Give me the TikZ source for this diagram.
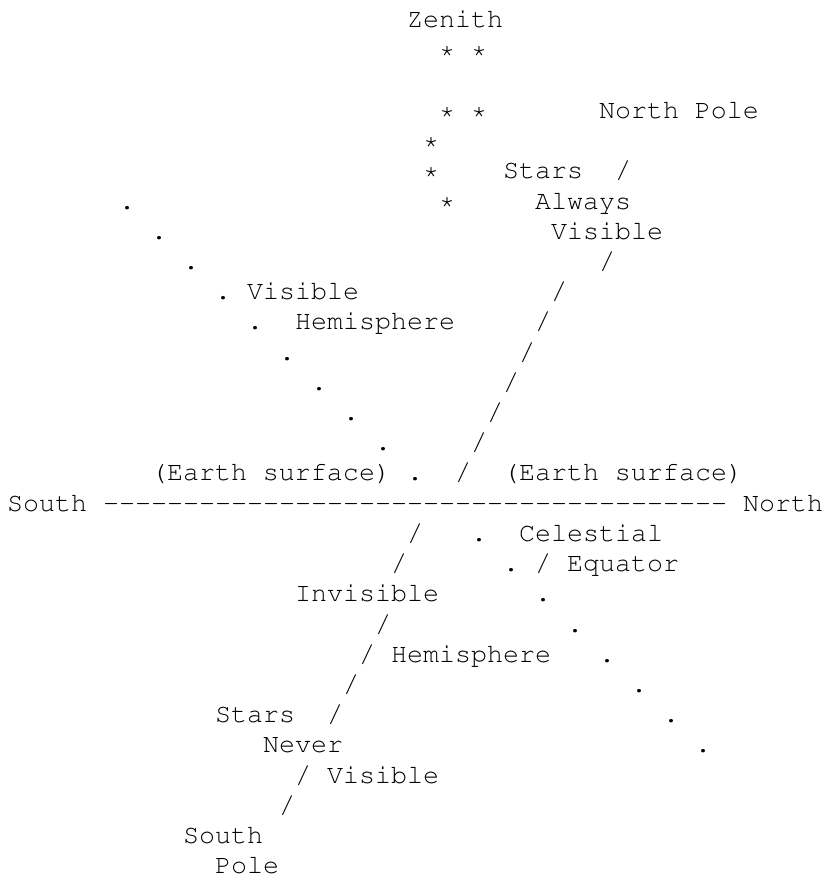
\documentclass[tikz,border=0pt]{standalone}
\usepackage[T1]{fontenc}
\usepackage{courier}
\usepackage{tikz}

\tikzset{txt/.style={anchor=base west, inner sep=0pt, outer sep=0pt, font=\fontsize{26.67}{30}\selectfont\ttfamily}}

\begin{document}
\begin{tikzpicture}[x=16pt,y=-30.2pt,every node/.style={txt}]
\useasboundingbox (-0.4375,0.073) rectangle (51.25,29.146);
% zenith and stars overhead
\node (0) at (25,1) {Zenith};
\node (1) at (27,2) {*};
\node (2) at (29,2) {*};
\node (3) at (27,4) {*};
\node (4) at (29,4) {*};
\node (5) at (37,4) {North Pole};
\node (6) at (26,5) {*};
\node (7) at (26,6) {*};
\node (8) at (31,6) {Stars};
\node (9) at (38,6) {/};
\node (10) at (27,7) {*};
\node (11) at (33,7) {Always};
\node (12) at (34,8) {Visible};
% visible hemisphere
\node (13) at (7,7) {.};
\node (14) at (9,8) {.};
\node (15) at (11,9) {.};
\node (16) at (37,9) {/};
\node (17) at (13,10) {.};
\node (18) at (15,10) {Visible};
\node (19) at (34,10) {/};
\node (20) at (15,11) {.};
\node (21) at (18,11) {Hemisphere};
\node (22) at (33,11) {/};
\node (23) at (17,12) {.};
\node (24) at (32,12) {/};
\node (25) at (19,13) {.};
\node (26) at (31,13) {/};
\node (27) at (21,14) {.};
\node (28) at (30,14) {/};
\node (29) at (23,15) {.};
\node (30) at (29,15) {/};
\node (31) at (9,16) {(Earth surface)};
\node (32) at (25,16) {.};
\node (33) at (28,16) {/};
\node (34) at (31,16) {(Earth surface)};
% horizon
\node (35) at (0,17) {South};
\foreach \i in {6,...,44} \node (d\i) at (\i,17) {-};
\node (36) at (46,17) {North};
% invisible hemisphere
\node (37) at (25,18) {/};
\node (38) at (29,18) {.};
\node (39) at (32,18) {Celestial};
\node (40) at (24,19) {/};
\node (41) at (31,19) {.};
\node (42) at (33,19) {/};
\node (43) at (35,19) {Equator};
\node (44) at (18,20) {Invisible};
\node (45) at (33,20) {.};
\node (46) at (23,21) {/};
\node (47) at (35,21) {.};
\node (48) at (22,22) {/};
\node (49) at (24,22) {Hemisphere};
\node (50) at (37,22) {.};
\node (51) at (21,23) {/};
\node (52) at (39,23) {.};
\node (53) at (13,24) {Stars};
\node (54) at (20,24) {/};
\node (55) at (41,24) {.};
\node (56) at (16,25) {Never};
\node (57) at (43,25) {.};
\node (58) at (18,26) {/};
\node (59) at (20,26) {Visible};
\node (60) at (17,27) {/};
\node (61) at (11,28) {South};
\node (62) at (13,29) {Pole};
\end{tikzpicture}
\end{document}
